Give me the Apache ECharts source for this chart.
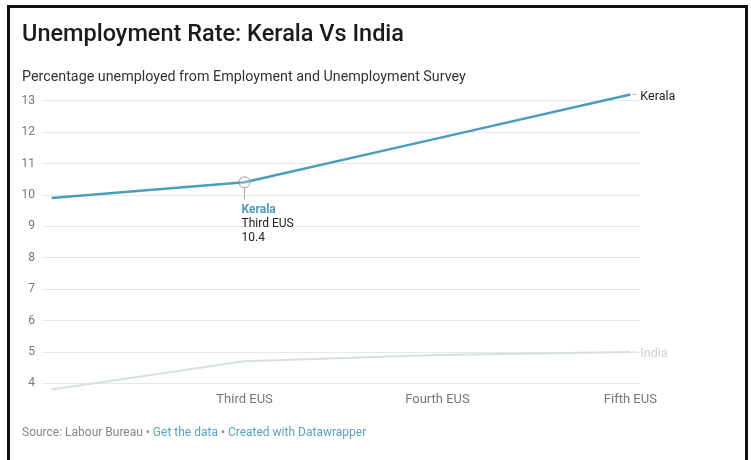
<!DOCTYPE html>
<html>
<head>
<meta charset="utf-8">
<script src="https://cdn.jsdelivr.net/npm/echarts@6/dist/echarts.min.js"></script>
<style>
  html, body { margin: 0; padding: 0; background: #fff; }
  #chart { width: 751px; height: 460px; position: relative; }
  #frame { position: absolute; left: 7px; top: 5px; width: 735px; height: 470px;
           border-left: 3px solid #111; border-top: 3px solid #111; border-right: 3px solid #111;
           pointer-events: none; }
</style>
</head>
<body>
<div id="chart"></div>
<div id="frame"></div>
<script>
const categories = ['Second EUS', 'Third EUS', 'Fourth EUS', 'Fifth EUS'];
const keralaValues = [9.9, 10.4, 11.8, 13.2];
const indiaValues = [3.8, 4.7, 4.9, 5.0];
const shownCategoryIdx = [1, 2, 3];
const highlightIdx = 1;

const font = 'Roboto, "Noto Sans", sans-serif';
const keralaColor = '#4b9dbc';
const indiaColor = '#d6e0e3';

const chart = echarts.init(document.getElementById('chart'), null, { renderer: 'canvas' });

const option = {
  animation: false,
  backgroundColor: '#fff',
  textStyle: { fontFamily: font },
  title: [
    { text: 'Unemployment Rate: Kerala Vs India', left: 22, top: 23, padding: 0,
      textStyle: { fontFamily: font, fontSize: 23.5, fontWeight: 500, color: '#1b1b1b' } },
    { text: 'Percentage unemployed from Employment and Unemployment Survey', left: 22, top: 70, padding: 0,
      textStyle: { fontFamily: font, fontSize: 14.3, fontWeight: 400, color: '#333' } }
  ],
  grid: { left: 42, right: 111, top: 100.7, bottom: 76.7, containLabel: false },
  xAxis: {
    type: 'value', min: -0.05, max: 3.05,
    axisLine: { show: false }, axisTick: { show: false }, splitLine: { show: false },
    axisLabel: {
      customValues: shownCategoryIdx,
      formatter: v => categories[Math.round(v)] || '',
      color: '#777', fontSize: 13, margin: 10, fontFamily: font
    }
  },
  yAxis: {
    type: 'value', min: 4, max: 13, interval: 1,
    axisLine: { show: false }, axisTick: { show: false },
    axisLabel: { color: '#777', fontSize: 12, margin: 7, fontFamily: font },
    splitLine: { lineStyle: { color: '#e8e8e8', width: 1 } }
  },
  series: [
    {
      name: 'India', type: 'line', clip: false, showSymbol: false, symbol: 'none',
      data: indiaValues.map((v, i) => [i, v]),
      lineStyle: { color: indiaColor, width: 2 },
      endLabel: { show: true, formatter: '{a}', color: '#cfcfcf', fontSize: 12.5, distance: 10,
                  offset: [0, 2], fontFamily: font },
      z: 2
    },
    {
      name: 'Kerala', type: 'line', clip: false, showSymbol: false, symbol: 'none',
      data: keralaValues.map((v, i) => [i, v]),
      lineStyle: { color: keralaColor, width: 2.5 },
      endLabel: { show: true, formatter: '{a}', color: '#222', fontSize: 12.5, distance: 10,
                  offset: [0, 2], fontFamily: font },
      z: 3
    }
  ]
};
chart.setOption(option);

// Annotation and decorations placed from data via the chart's own scales
const hp = chart.convertToPixel({ gridIndex: 0 }, [highlightIdx, keralaValues[highlightIdx]]);
const kEnd = chart.convertToPixel({ gridIndex: 0 }, [keralaValues.length - 1, keralaValues[keralaValues.length - 1]]);
const iEnd = chart.convertToPixel({ gridIndex: 0 }, [indiaValues.length - 1, indiaValues[indiaValues.length - 1]]);
const r = 5.5;

chart.setOption({
  graphic: [
    { type: 'circle', shape: { cx: hp[0], cy: hp[1], r: r }, z: 10,
      style: { fill: 'rgba(255,255,255,0.25)', stroke: '#9a9a9a', lineWidth: 1 } },
    { type: 'line', shape: { x1: hp[0], y1: hp[1] + r, x2: hp[0], y2: hp[1] + 17 }, z: 10,
      style: { stroke: '#aaa', lineWidth: 1 } },
    { type: 'text', x: hp[0] - 3, y: hp[1] + 21, z: 10,
      style: {
        text: '{k|Kerala}\n{t|' + categories[highlightIdx] + '}\n{t|' + keralaValues[highlightIdx] + '}',
        rich: {
          k: { fontFamily: font, fontSize: 12, fontWeight: 'bold', fill: keralaColor, lineHeight: 14 },
          t: { fontFamily: font, fontSize: 12, fill: '#222', lineHeight: 14 }
        }
      } },
    { type: 'line', shape: { x1: kEnd[0] + 2, y1: kEnd[1], x2: kEnd[0] + 6, y2: kEnd[1] },
      style: { stroke: '#bbb', lineWidth: 1 } },
    { type: 'line', shape: { x1: iEnd[0] + 2, y1: iEnd[1], x2: iEnd[0] + 6, y2: iEnd[1] },
      style: { stroke: '#ddd', lineWidth: 1 } },
    { type: 'text', left: 22, top: 427,
      style: {
        text: '{g|Source: Labour Bureau • }{b|Get the data}{g| • }{b|Created with Datawrapper}',
        rich: {
          g: { fontFamily: font, fontSize: 12, fill: '#888' },
          b: { fontFamily: font, fontSize: 12, fill: '#5aa3bd' }
        }
      } }
  ]
});
</script>
</body>
</html>
